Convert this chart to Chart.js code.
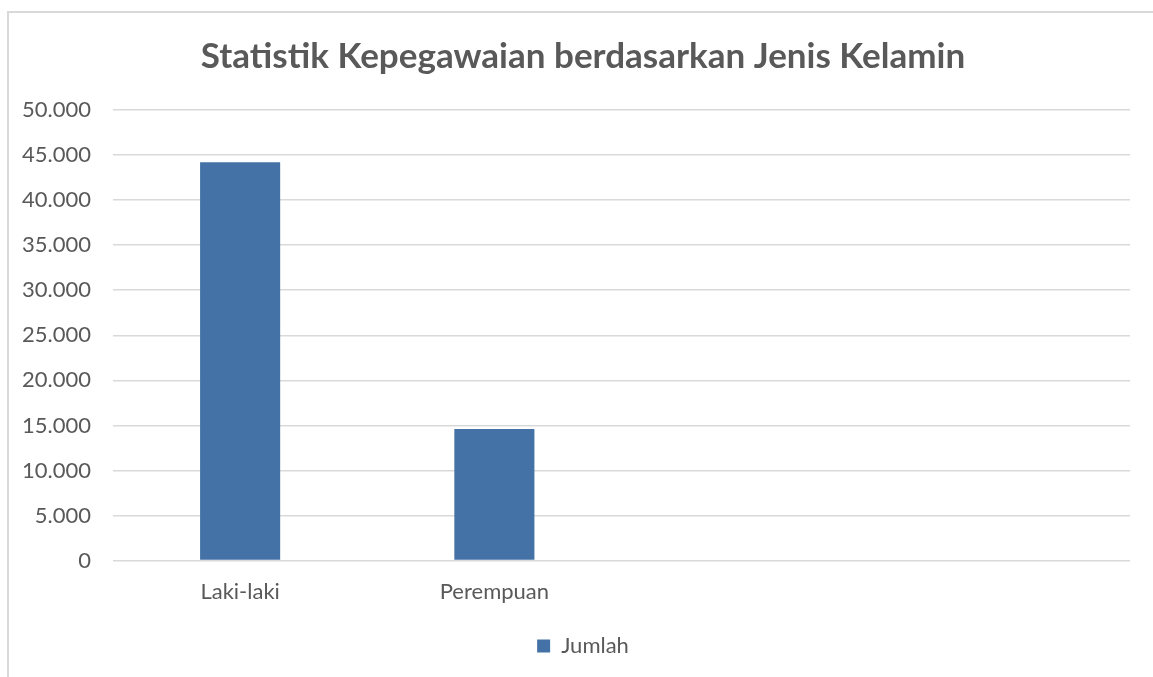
<!DOCTYPE html>
<html>
<head>
<meta charset="utf-8">
<script src="https://cdn.jsdelivr.net/npm/chart.js@4.4.1/dist/chart.umd.min.js"></script>
<style>
  body { margin: 0; background: #fff; }
  #frame {
    position: absolute; left: 7px; top: 11px; width: 1200px; height: 700px;
    border-left: 2px solid #d9d9d9; border-top: 2px solid #d9d9d9;
  }
  #wrap { position: absolute; left: 0; top: 0; width: 1153px; height: 677px; }
</style>
</head>
<body>
<div id="frame"></div>
<div id="wrap"><canvas id="chart"></canvas></div>
<script>
const categories = ["Laki-laki", "Perempuan", "", ""];
const jumlah = [44200, 14600, null, null];
const seriesName = "Jumlah";
const yMax = 50000;
const yStep = 5000;

const textColor = "#595959";
const barColor = "#4572a6";
const gridColor = "#d9d9d9";

const fmt = (v) => String(v).replace(/\B(?=(\d{3})+(?!\d))/g, ".");

// title and legend are centred on the whole frame, not on the area left of the padding
const shiftBlocks = {
  id: "shiftBlocks",
  afterLayout(chart) {
    [chart.titleBlock, chart.legend].forEach((b) => {
      if (b) { b.left = 36; b.right = 1130; }
    });
  },
};

const ctx = document.getElementById("chart").getContext("2d");
const chart = new Chart(ctx, {
  type: "bar",
  data: {
    labels: categories,
    datasets: [
      {
        label: seriesName,
        data: jumlah,
        backgroundColor: barColor,
        borderWidth: 0,
        barPercentage: 0.315,
        categoryPercentage: 1,
      },
    ],
  },
  options: {
    responsive: true,
    maintainAspectRatio: false,
    animation: false,
    layout: { padding: { left: 0, right: 23, top: 0, bottom: 10 } },
    plugins: {
      title: {
        display: true,
        text: "Statistik Kepegawaian berdasarkan Jenis Kelamin",
        color: textColor,
        font: { family: "Lato", size: 35, weight: "bold" },
        padding: { top: 36, bottom: 32 },
      },
      legend: {
        position: "bottom",
        labels: {
          color: textColor,
          font: { family: "Lato", size: 22 },
          boxWidth: 13,
          boxHeight: 13,
          padding: 10,
        },
      },
      tooltip: { enabled: false },
    },
    scales: {
      x: {
        grid: { display: false },
        border: { display: false },
        afterFit: (scale) => { scale.height += 10; },
        ticks: {
          color: textColor,
          font: { family: "Lato", size: 22 },
          padding: 10,
        },
      },
      y: {
        min: 0,
        max: yMax,
        afterFit: (scale) => { scale.width = 113; },
        grid: { color: gridColor, lineWidth: 1.5, drawTicks: false },
        border: { display: false },
        ticks: {
          stepSize: yStep,
          color: textColor,
          font: { family: "Lato", size: 22 },
          padding: 22,
          callback: (v) => fmt(v),
        },
      },
    },
  },
  plugins: [shiftBlocks],
});
</script>
</body>
</html>
